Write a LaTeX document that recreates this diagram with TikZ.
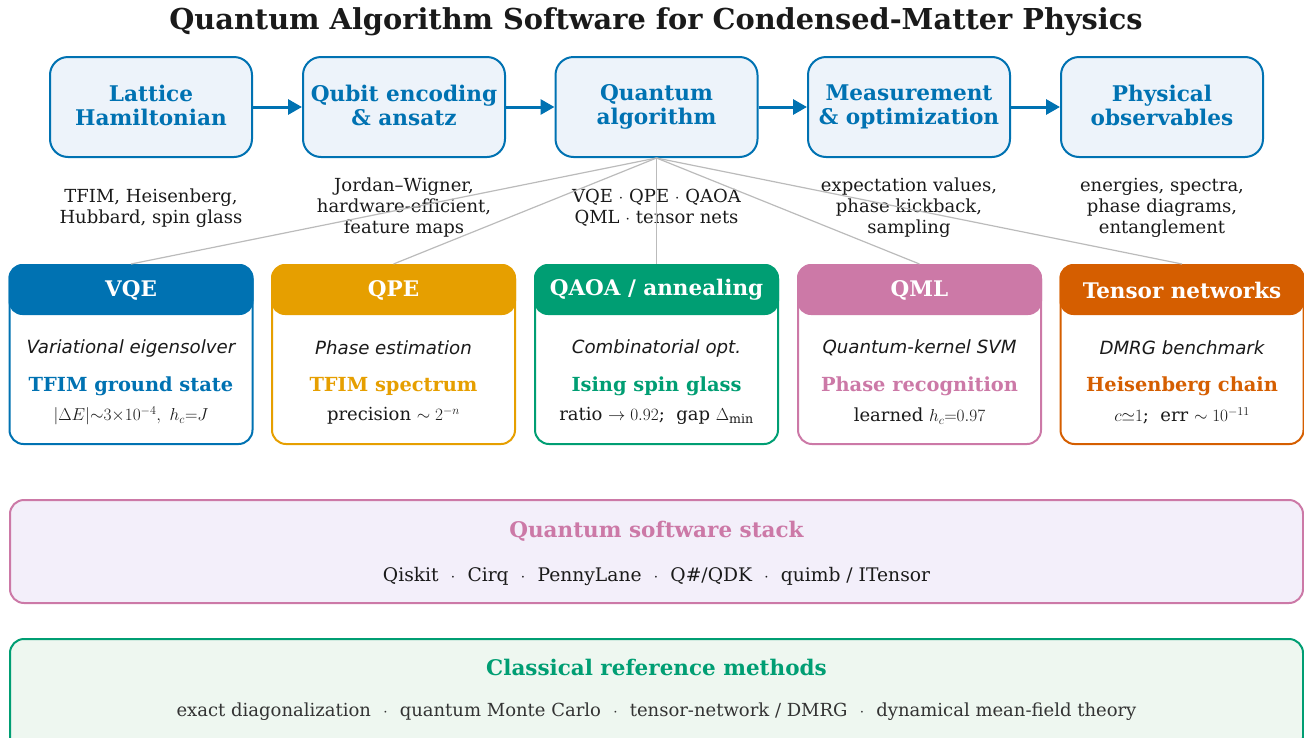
\documentclass[tikz,border=0pt]{standalone}
\usepackage{fontspec}
\setmainfont{DejaVu Serif}
\newfontfamily\slantfont{DejaVu Sans}
\usetikzlibrary{arrows.meta,positioning}
\definecolor{qblue}{HTML}{0072B2}
\definecolor{qorange}{HTML}{E69F00}
\definecolor{qgreen}{HTML}{009E73}
\definecolor{qpink}{HTML}{CC79A7}
\definecolor{qred}{HTML}{D55E00}
\definecolor{stagefill}{HTML}{EDF3FA}
\definecolor{stackfill}{HTML}{F3EFFA}
\definecolor{classfill}{HTML}{EEF7F0}
\definecolor{linkgray}{HTML}{BBBBBB}
\definecolor{ink}{HTML}{1A1A1A}
\definecolor{softink}{HTML}{333333}
\newcommand{\sep}{\hspace{12pt}$\cdot$\hspace{12pt}}
\newcommand{\stagestrut}{\vrule height 21.5pt depth 2.5pt width 0pt}
\tikzset{
  stage/.style={draw=qblue,line width=2pt,fill=stagefill,rounded corners=18pt,
    minimum width=202pt,minimum height=100pt,align=center,text=qblue,
    font=\bfseries\fontsize{21.6}{24}\selectfont,
    execute at begin node=\stagestrut,execute at end node=\stagestrut},
  flow/.style={qblue,line width=3pt,-{Triangle[length=14pt,width=15pt]}},
  note/.style={align=center,text=ink,font=\fontsize{18}{21}\selectfont,
    execute at begin node=\strut,execute at end node=\strut},
  link/.style={linkgray,line width=1.2pt},
  card/.style={draw=#1,line width=2pt,fill=white,rounded corners=14pt,
    minimum width=243pt,minimum height=179pt},
  cardhead/.style={text=white,font=\bfseries\fontsize{21.5}{24}\selectfont},
  cardsub/.style={text=ink,font=\slantfont\itshape\fontsize{18.2}{20}\selectfont},
  cardtask/.style={text=#1,font=\bfseries\fontsize{19.4}{22}\selectfont},
  cardnum/.style={text=ink,font=\fontsize{18}{20}\selectfont},
  panel/.style={draw=#1,line width=2pt,rounded corners=14pt,
    minimum width=1293pt},
  paneltitle/.style={text=#1,font=\bfseries\fontsize{21.5}{24}\selectfont},
  paneltext/.style={text=#1,font=\fontsize{18}{20}\selectfont}
}
\begin{document}
\begin{tikzpicture}[x=1pt,y=-1pt]
\useasboundingbox (0,0) rectangle (1304,737);
% title
\node[text=ink,font=\bfseries\fontsize{28.8}{32}\selectfont] (title) at (656,22) {Quantum Algorithm Software for Condensed-Matter Physics};
% pipeline
\node[stage] (ham) at (151,107) {Lattice\\Hamiltonian};
\node[stage] (enc) at (404,107) {Qubit encoding\\\& ansatz};
\node[stage] (alg) at (656.5,107) {Quantum\\algorithm};
\node[stage] (meas) at (909,107) {Measurement\\\& optimization};
\node[stage] (obs) at (1162,107) {Physical\\observables};
\draw[flow] (ham) -- (enc);
\draw[flow] (enc) -- (alg);
\draw[flow] (alg) -- (meas);
\draw[flow] (meas) -- (obs);
% notes under the stages
\node[note] (ham-n) at (151,209) {TFIM, Heisenberg,\\Hubbard, spin glass};
\node[note] (enc-n) at (404,209) {Jordan--Wigner,\\hardware-efficient,\\feature maps};
\node[note] (alg-n) at (656.5,209) {VQE $\cdot$ QPE $\cdot$ QAOA\\QML $\cdot$ tensor nets};
\node[note] (meas-n) at (909,209) {expectation values,\\phase kickback,\\sampling};
\node[note] (obs-n) at (1162,209) {energies, spectra,\\phase diagrams,\\entanglement};
% algorithm cards
\node[card=qblue] (vqe) at (131,354.5) {};
\node[card=qorange] (qpe) at (393.5,354.5) {};
\node[card=qgreen] (qaoa) at (656.5,354.5) {};
\node[card=qpink] (qml) at (919.5,354.5) {};
\node[card=qred] (tn) at (1182,354.5) {};
\fill[qblue,rounded corners=14pt] (vqe.north west) rectangle ([yshift=-51pt]vqe.north east);
\fill[qorange,rounded corners=14pt] (qpe.north west) rectangle ([yshift=-51pt]qpe.north east);
\fill[qgreen,rounded corners=14pt] (qaoa.north west) rectangle ([yshift=-51pt]qaoa.north east);
\fill[qpink,rounded corners=14pt] (qml.north west) rectangle ([yshift=-51pt]qml.north east);
\fill[qred,rounded corners=14pt] (tn.north west) rectangle ([yshift=-51pt]tn.north east);
\draw[link] (alg.south) -- (vqe.north);
\draw[link] (alg.south) -- (qpe.north);
\draw[link] (alg.south) -- (qaoa.north);
\draw[link] (alg.south) -- (qml.north);
\draw[link] (alg.south) -- (tn.north);
\node[cardhead] (vqe-h) at (131,290) {VQE};
\node[cardsub] (vqe-s) at (131,348) {Variational eigensolver};
\node[cardtask=qblue] (vqe-t) at (131,386) {TFIM ground state};
\node[cardnum] (vqe-r) at (131,416) {$|\Delta E|{\sim}3{\times}10^{-4},\ h_c{=}J$};
\node[cardhead] (qpe-h) at (393.5,290) {QPE};
\node[cardsub] (qpe-s) at (393.5,348) {Phase estimation};
\node[cardtask=qorange] (qpe-t) at (393.5,386) {TFIM spectrum};
\node[cardnum] (qpe-r) at (393.5,416) {precision $\sim 2^{-n}$};
\node[cardhead] (qaoa-h) at (656.5,290) {QAOA / annealing};
\node[cardsub] (qaoa-s) at (656.5,348) {Combinatorial opt.};
\node[cardtask=qgreen] (qaoa-t) at (656.5,386) {Ising spin glass};
\node[cardnum] (qaoa-r) at (656.5,416) {ratio $\to 0.92$;\ \ gap $\Delta_{\min}$};
\node[cardhead] (qml-h) at (919.5,290) {QML};
\node[cardsub] (qml-s) at (919.5,348) {Quantum-kernel SVM};
\node[cardtask=qpink] (qml-t) at (919.5,386) {Phase recognition};
\node[cardnum] (qml-r) at (919.5,416) {learned $h_c{=}0.97$};
\node[cardhead] (tn-h) at (1182,290) {Tensor networks};
\node[cardsub] (tn-s) at (1182,348) {DMRG benchmark};
\node[cardtask=qred] (tn-t) at (1182,386) {Heisenberg chain};
\node[cardnum] (tn-r) at (1182,416) {$c{\simeq}1$;\ \ err $\sim 10^{-11}$};
% software stack and classical methods
\node[panel=qpink,fill=stackfill,minimum height=103pt] (stack) at (656.5,551.5) {};
\node[paneltitle=qpink] (stack-t) at (656.5,531) {Quantum software stack};
\node[paneltext=ink,font=\fontsize{18.7}{20}\selectfont] (stack-l) at (656.5,576) {Qiskit\sep Cirq\sep PennyLane\sep Q\#/QDK\sep quimb / ITensor};
\node[panel=qgreen,fill=classfill,minimum height=112pt] (classic) at (656.5,695) {};
\node[paneltitle=qgreen] (classic-t) at (656.5,667) {Classical reference methods};
\node[paneltext=softink] (classic-l) at (656.5,712) {exact diagonalization\sep quantum Monte Carlo\sep tensor-network / DMRG\sep dynamical mean-field theory};
\end{tikzpicture}
\end{document}
